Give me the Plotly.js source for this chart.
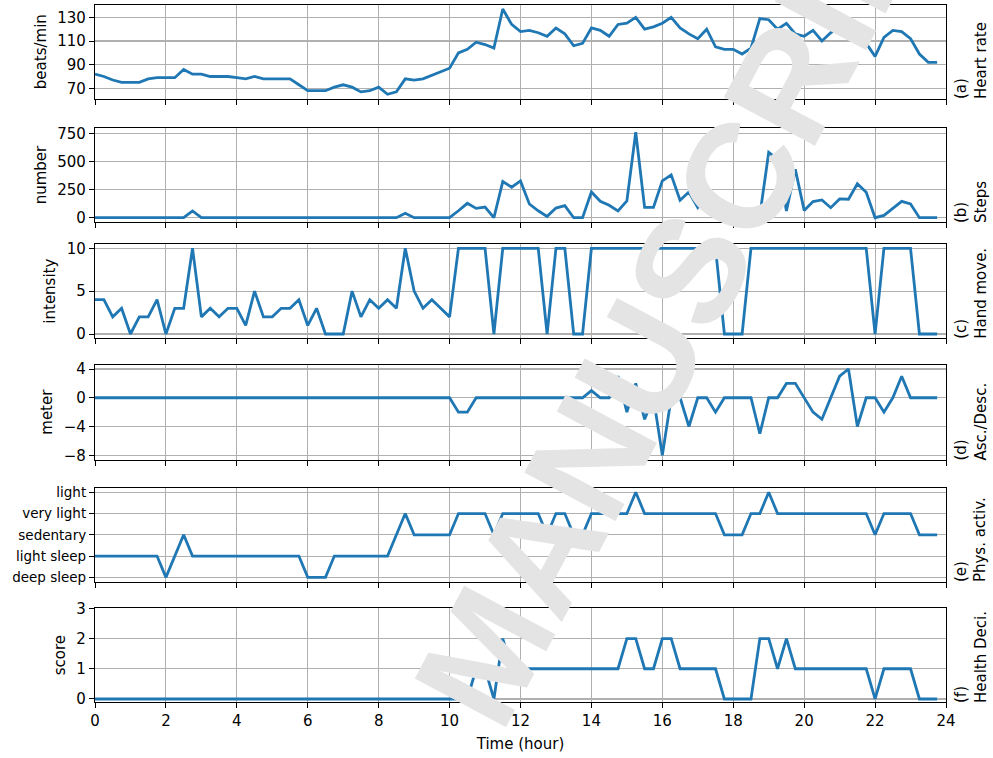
<!DOCTYPE html>
<html>
<head>
<meta charset="utf-8">
<script src="https://cdn.plot.ly/plotly-3.0.1.min.js"></script>
<style>html,body{margin:0;padding:0;background:#fff}#chart{width:993px;height:758px}</style>
</head>
<body>
<div id="chart"></div>
<script>
// ---- data (15-minute samples) ----
const timeHours = [
  0,0.25,0.5,0.75, 1,1.25,1.5,1.75, 2,2.25,2.5,2.75, 3,3.25,3.5,3.75,
  4,4.25,4.5,4.75, 5,5.25,5.5,5.75, 6,6.25,6.5,6.75, 7,7.25,7.5,7.75,
  8,8.25,8.5,8.75, 9,9.25,9.5,9.75, 10,10.25,10.5,10.75, 11,11.25,11.5,11.75,
  12,12.25,12.5,12.75, 13,13.25,13.5,13.75, 14,14.25,14.5,14.75, 15,15.25,15.5,15.75,
  16,16.25,16.5,16.75, 17,17.25,17.5,17.75, 18,18.25,18.5,18.75, 19,19.25,19.5,19.75,
  20,20.25,20.5,20.75, 21,21.25,21.5,21.75, 22,22.25,22.5,22.75, 23,23.25,23.5,23.75
];
const heartRate = [
  82,80,77,75, 75,75,78,79, 79,79,86,82, 82,80,80,80,
  79,78,80,78, 78,78,78,73, 68,68,68,71, 73,71,67,68,
  71,65,67,78, 77,78,81,84, 87,100,103,109, 107,104,137,124,
  118,119,117,114, 121,116,106,108, 121,119,114,124, 125,130,120,122,
  125,130,121,116, 112,120,105,103, 103,99,104,129, 128,120,125,116,
  114,119,110,117, 122,124,120,108, 97,113,119,118, 112,99,92,92
];
const steps = [
  0,0,0,0, 0,0,0,0, 0,0,0,60, 0,0,0,0,
  0,0,0,0, 0,0,0,0, 0,0,0,0, 0,0,0,0,
  0,0,0,40, 0,0,0,0, 0,62,128,83, 95,0,321,271,
  327,122,62,12, 86,107,0,0, 229,146,110,60, 149,759,92,92,
  327,381,155,229, 90,182,104,18, 12,3,27,21, 580,520,60,430,
  65,143,158,89, 167,164,301,226, 0,21,83,146, 122,0,0,0
];
const handMovement = [
  4,4,2,3, 0,2,2,4, 0,3,3,10, 2,3,2,3,
  3,1,5,2, 2,3,3,4, 1,3,0,0, 0,5,2,4,
  3,4,3,10, 5,3,4,3, 2,10,10,10, 10,0,10,10,
  10,10,10,0, 10,10,0,0, 10,10,10,10, 10,10,10,10,
  10,10,10,10, 10,10,10,0, 0,0,10,10, 10,10,10,10,
  10,10,10,10, 10,10,10,10, 0,10,10,10, 10,0,0,0
];
const ascDesc = [
  0,0,0,0, 0,0,0,0, 0,0,0,0, 0,0,0,0,
  0,0,0,0, 0,0,0,0, 0,0,0,0, 0,0,0,0,
  0,0,0,0, 0,0,0,0, 0,-2,-2,0, 0,0,0,0,
  0,0,0,0, 0,0,0,0, 1,0,0,3, -2,2,-3,0,
  -8,0,0,-4, 0,0,-2,0, 0,0,0,-5, 0,0,2,2,
  0,-2,-3,0, 3,4,-4,0, 0,-2,0,3, 0,0,0,0
];
const activityLevels = ['deep sleep','light sleep','sedentary','very light','light'];
const physActivity = [
  1,1,1,1, 1,1,1,1, 0,1,2,1, 1,1,1,1,
  1,1,1,1, 1,1,1,1, 0,0,0,1, 1,1,1,1,
  1,1,2,3, 2,2,2,2, 2,3,3,3, 3,2,3,3,
  3,3,3,2, 3,3,2,2, 3,3,3,3, 3,4,3,3,
  3,3,3,3, 3,3,3,2, 2,2,3,3, 4,3,3,3,
  3,3,3,3, 3,3,3,3, 2,3,3,3, 3,2,2,2
];
const healthScore = [
  0,0,0,0, 0,0,0,0, 0,0,0,0, 0,0,0,0,
  0,0,0,0, 0,0,0,0, 0,0,0,0, 0,0,0,0,
  0,0,0,0, 0,0,0,0, 0,0,0,1, 1,0,2,1,
  1,1,1,1, 1,1,1,1, 1,1,1,1, 2,2,1,1,
  2,2,1,1, 1,1,1,0, 0,0,0,2, 2,1,2,1,
  1,1,1,1, 1,1,1,1, 0,1,1,1, 1,0,0,0
];
const xTicks = [0,2,4,6,8,10,12,14,16,18,20,22,24];
const panelLabels = ['(a)<br>Heart rate','(b)<br>Steps','(c)<br>Hand move.','(d)<br>Asc./Desc.','(e)<br>Phys. activ.','(f)<br>Health Deci.'];
const yTitles = ['beats/min','number','intensity','meter','','score'];

// ---- layout helpers ----
const H = 758;
const panelPx = [[4.8,98.5],[128,222],[244,338.3],[364.7,459.6],[488,581.6],[608.3,702]];
const dom = p => [1 - p[1]/H, 1 - p[0]/H];
const series = [heartRate, steps, handMovement, ascDesc, physActivity, healthScore];
const yRanges = [[61.4,140.6],[-38,797],[-0.5,10.5],[-8.6,4.6],[-0.2,4.2],[-0.1,3]];
const yTickVals = [[70,90,110,130],[0,250,500,750],[0,5,10],[-8,-4,0,4],[0,1,2,3,4],[0,1,2,3]];

const FONT = 'DejaVu Sans, sans-serif';
const traces = [];
const layout = {
  width: 993, height: 758,
  margin: {l: 95, r: 47, t: 0, b: 0},
  paper_bgcolor: '#fff', plot_bgcolor: '#fff',
  showlegend: false,
  font: {family: FONT, size: 15, color: '#000'},
  annotations: []
};

for (let i = 0; i < 6; i++) {
  const sfx = i === 0 ? '' : String(i + 1);
  traces.push({
    type: 'scatter', mode: 'lines',
    x: timeHours, y: series[i],
    xaxis: 'x' + sfx, yaxis: 'y' + sfx,
    line: {color: '#1f77b4', width: 2.8},
    hoverinfo: 'skip'
  });
  const last = i === 5;
  layout['xaxis' + sfx] = {
    domain: [0, 1], anchor: 'y' + sfx,
    range: [0, 24], tickvals: xTicks, ticktext: xTicks.map(String),
    showticklabels: last,
    ticks: 'outside', ticklen: 5, tickwidth: 1, tickcolor: '#000',
    showgrid: true, gridcolor: '#b0b0b0', gridwidth: 1.1,
    zeroline: false, showline: true, mirror: true, linecolor: '#000', linewidth: 1.1,
    tickfont: {family: FONT, size: 15, color: '#000'},
    automargin: false,
    title: last ? {text: 'Time (hour)', font: {family: FONT, size: 15, color: '#000'}, standoff: 9} : {text: ''}
  };
  if (i > 0) layout['xaxis' + sfx].matches = 'x';
  const yax = {
    domain: dom(panelPx[i]), anchor: 'x' + sfx,
    range: yRanges[i], tickvals: yTickVals[i],
    ticks: 'outside', ticklen: 5, tickwidth: 1, tickcolor: '#000',
    showgrid: true, gridcolor: '#b0b0b0', gridwidth: 1.1,
    zeroline: false, showline: true, mirror: true, linecolor: '#000', linewidth: 1.1,
    tickfont: {family: FONT, size: 15, color: '#000'},
    automargin: false,
    title: {text: yTitles[i], font: {family: FONT, size: 15, color: '#000'}, standoff: 7}
  };
  if (i === 4) {
    yax.ticktext = activityLevels;
    yax.tickfont = {family: FONT, size: 13.5, color: '#000'};
  }
  layout['yaxis' + sfx] = yax;

  layout.annotations.push({
    xref: 'paper', yref: 'paper',
    x: 1, y: dom(panelPx[i])[0],
    xanchor: 'left', yanchor: 'bottom', xshift: 4, yshift: -3,
    textangle: -90, align: 'left', showarrow: false,
    text: panelLabels[i],
    font: {family: FONT, size: 15, color: '#000'}
  });
}

// watermark text drawn over the chart
layout.annotations.push({
  xref: 'paper', yref: 'paper', x: 0.699, y: 0.644,
  xanchor: 'center', yanchor: 'middle',
  text: 'MANUSCRIPT', textangle: -62, showarrow: false,
  font: {family: 'Liberation Sans, Arial, sans-serif', size: 150, color: '#e4e4e4', weight: 'bold'}
});

Plotly.newPlot('chart', traces, layout, {staticPlot: true, displayModeBar: false});
</script>
</body>
</html>
